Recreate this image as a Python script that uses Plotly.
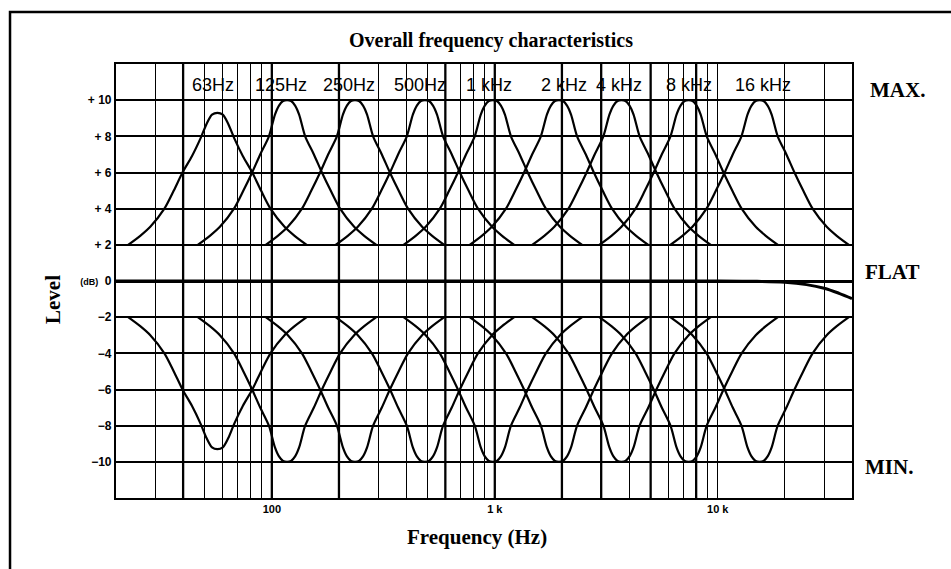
import plotly.graph_objects as go
import math

# ---- data ----
band_labels = ["63Hz", "125Hz", "250Hz", "500Hz", "1 kHz", "2 kHz", "4 kHz", "8 kHz", "16 kHz"]
band_centers = [57, 117, 236, 486, 980, 1940, 3700, 7400, 15400]      # Hz (peak / dip positions)
label_x = [54.4, 109.7, 221.5, 461, 940, 2038, 3597, 7413, 15920]     # Hz (label centres)
label_level = 10.85

# shape of one band (octaves from centre, dB) for 10 dB bands
prof_oct = [-1.33, -1.15, -1.0, -0.79, -0.65, -0.52, -0.40, -0.27, -0.18, -0.12, -0.06, 0.0,
            0.06, 0.12, 0.18, 0.27, 0.40, 0.52, 0.65, 0.79, 1.0, 1.15, 1.33]
prof_db = [2.0, 2.5, 3.0, 4.0, 5.0, 6.0, 7.0, 8.0, 9.2, 9.7, 9.95, 10.0,
           9.95, 9.7, 9.2, 8.0, 7.0, 6.0, 5.0, 4.0, 3.0, 2.5, 2.0]
# the 63 Hz band only reaches about 9.3 dB
prof63_oct = [-1.33, -1.15, -1.0, -0.79, -0.65, -0.52, -0.38, -0.25, -0.16, -0.08, 0.0,
              0.08, 0.16, 0.25, 0.38, 0.52, 0.65, 0.79, 1.0, 1.15, 1.33]
prof63_db = [2.0, 2.5, 3.0, 4.0, 5.0, 6.0, 6.9, 7.9, 8.7, 9.2, 9.3,
             9.2, 8.7, 7.9, 6.9, 6.0, 5.0, 4.0, 3.0, 2.5, 2.0]

flat_freq = [20, 1000, 10000, 15000, 20000, 25000, 30000, 35000, 40000]
flat_db = [0, 0, 0, -0.02, -0.07, -0.2, -0.4, -0.68, -0.97]

grid_freqs = [20, 30, 40, 50, 60, 70, 80, 90, 100, 200, 300, 400, 500, 600, 700, 800, 900,
              1000, 2000, 3000, 4000, 5000, 6000, 7000, 8000, 9000, 10000, 20000, 30000, 40000]
heavy_freqs = [40, 100, 200, 600, 1000, 2000, 3000, 5000, 8000]
x_tick_text = {100: "100", 1000: "1 k", 10000: "10 k"}
y_ticks = [-10, -8, -6, -4, -2, 0, 2, 4, 6, 8, 10]
y_tick_text = ["−10", "−8", "−6", "−4", "−2", "<span style='font-size:9px'>(dB)</span>  0",
               "+ 2", "+ 4", "+ 6", "+ 8", "+ 10"]

X_RANGE = (20, 40000)
Y_RANGE = (-12, 12)

fig = go.Figure()

# heavier grid lines (scan)
hx, hy = [], []
for f in heavy_freqs:
    hx += [f, f, None]
    hy += [Y_RANGE[0], Y_RANGE[1], None]
fig.add_trace(go.Scatter(x=hx, y=hy, mode="lines", line=dict(color="black", width=2.3),
                         hoverinfo="skip", showlegend=False))

# flat line
fig.add_trace(go.Scatter(x=flat_freq, y=flat_db, mode="lines", line=dict(color="black", width=3, shape="spline"),
                         showlegend=False))

for i, c in enumerate(band_centers):
    po, pd = (prof63_oct, prof63_db) if i == 0 else (prof_oct, prof_db)
    xs = [c * 2 ** o for o in po]
    fig.add_trace(go.Scatter(x=xs, y=pd, mode="lines",
                             line=dict(color="black", width=2.2, shape="spline", smoothing=0.8),
                             showlegend=False))
    fig.add_trace(go.Scatter(x=xs, y=[-v for v in pd], mode="lines",
                             line=dict(color="black", width=2.2, shape="spline", smoothing=0.8),
                             showlegend=False))

annotations = []
for lab, lx in zip(band_labels, label_x):
    annotations.append(dict(x=math.log10(lx), y=label_level, xref="x", yref="y", text=lab,
                            showarrow=False, xanchor="center", yanchor="middle",
                            font=dict(family="Liberation Sans", size=18, color="black")))

serif = "Liberation Serif"
annotations += [
    dict(x=0.5095, y=1.053, xref="paper", yref="paper", text="<b>Overall frequency characteristics</b>",
         showarrow=False, xanchor="center", yanchor="middle",
         font=dict(family=serif, size=20, color="black")),
    dict(x=0.4905, y=-0.09, xref="paper", yref="paper", text="<b>Frequency (Hz)</b>",
         showarrow=False, xanchor="center", yanchor="middle",
         font=dict(family=serif, size=21, color="black")),
    dict(x=-0.0856, y=0.4585, xref="paper", yref="paper", text="<b>Level</b>", textangle=-90,
         showarrow=False, xanchor="center", yanchor="middle",
         font=dict(family=serif, size=21, color="black")),
    dict(x=1.022, y=10.55, xref="paper", yref="y", text="<b>MAX.</b>", xanchor="left", yanchor="middle",
         showarrow=False, font=dict(family=serif, size=21, color="black")),
    dict(x=1.015, y=0.5, xref="paper", yref="y", text="<b>FLAT</b>", xanchor="left", yanchor="middle",
         showarrow=False, font=dict(family=serif, size=21, color="black")),
    dict(x=1.015, y=-10.28, xref="paper", yref="y", text="<b>MIN.</b>", xanchor="left", yanchor="middle",
         showarrow=False, font=dict(family=serif, size=21, color="black")),
]

fig.update_layout(
    width=951, height=569,
    margin=dict(l=116, r=99, t=64, b=71, autoexpand=False),
    paper_bgcolor="white", plot_bgcolor="white",
    showlegend=False,
    annotations=annotations,
    shapes=[dict(type="rect", xref="paper", yref="paper", x0=-0.144, x1=1.3, y0=-0.3, y1=1.1198,
                 line=dict(color="black", width=2.5), layer="above")],
    xaxis=dict(type="log", range=[math.log10(X_RANGE[0]), math.log10(X_RANGE[1])],
               tickvals=grid_freqs, ticktext=[x_tick_text.get(f, "") for f in grid_freqs],
               ticks="", showgrid=True, gridcolor="black", gridwidth=1.3,
               showline=True, linecolor="black", linewidth=2.2, mirror=True,
               tickfont=dict(family="Liberation Sans", size=11, color="black", weight="bold"),
               zeroline=False),
    yaxis=dict(range=list(Y_RANGE), tickvals=y_ticks, ticktext=y_tick_text,
               ticks="", showgrid=True, gridcolor="black", gridwidth=1.8,
               showline=True, linecolor="black", linewidth=2.2, mirror=True,
               zeroline=True, zerolinecolor="black", zerolinewidth=2.5,
               tickfont=dict(family="Liberation Sans", size=12, color="black", weight="bold")),
)

fig.write_html("out.html", config={"displayModeBar": False},
               post_script="document.body.style.margin='0';")
